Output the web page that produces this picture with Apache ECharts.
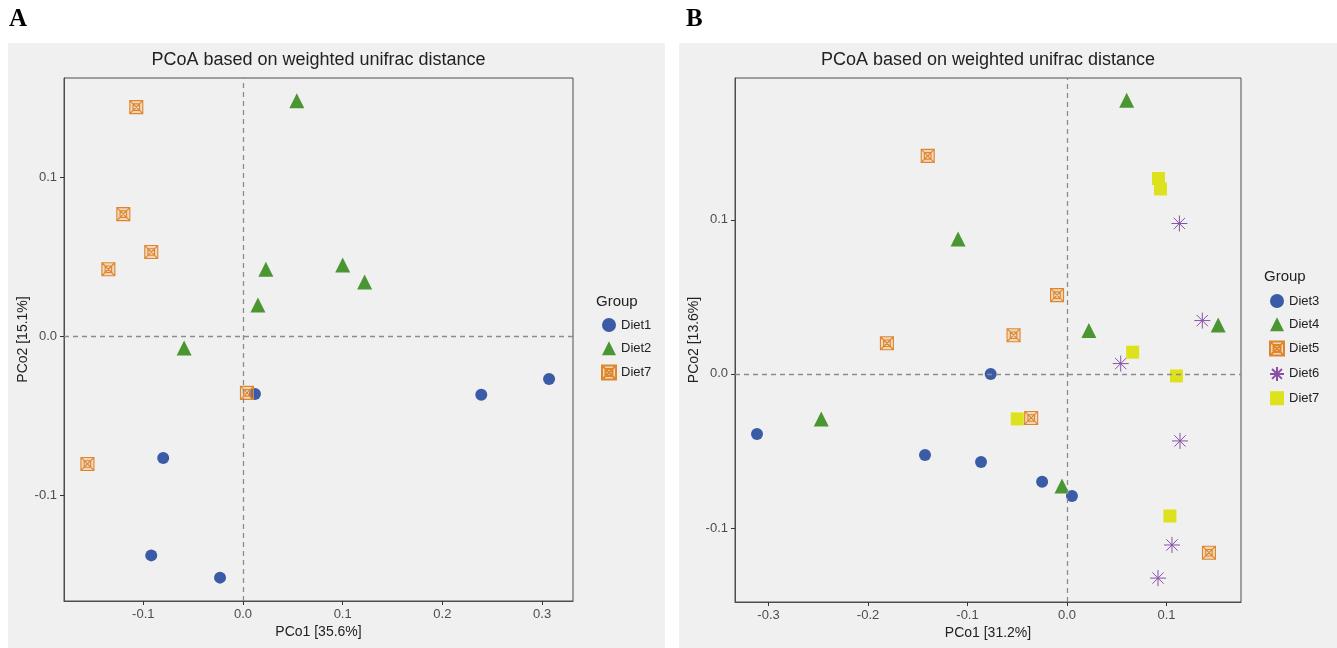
<!DOCTYPE html>
<html>
<head>
<meta charset="utf-8">
<title>PCoA weighted unifrac</title>
<script src="https://cdn.jsdelivr.net/npm/echarts@6/dist/echarts.min.js"></script>
<style>
  html, body { margin: 0; padding: 0; background: #fff; }
  #panelA, #panelB { position: absolute; top: 0; height: 648px; }
  #panelA { left: 0; width: 669px; }
  #panelB { left: 669px; width: 668px; }
</style>
</head>
<body>
<div id="panelA"></div>
<div id="panelB"></div>
<script>
// ---- panel A data: [PCo1, PCo2]
const diet1A = [[0.012, -0.0365], [-0.080, -0.0767], [-0.092, -0.138], [-0.023, -0.152], [0.239, -0.037], [0.307, -0.027]];
const diet2A = [[0.054, 0.148], [0.023, 0.042], [0.015, 0.0195], [0.100, 0.0447], [0.122, 0.034], [-0.059, -0.0075]];
const diet7A = [[-0.107, 0.144], [-0.120, 0.0767], [-0.092, 0.0528], [-0.135, 0.042], [0.004, -0.0358], [-0.156, -0.0805]];

// ---- panel B data
const diet3B = [[-0.0767, 0.0], [-0.3116, -0.039], [-0.1427, -0.0526], [-0.0864, -0.0571], [-0.025, -0.070], [0.005, -0.0792]];
const diet4B = [[0.060, 0.1775], [-0.1095, 0.0875], [0.152, 0.0318], [0.022, 0.0281], [-0.247, -0.0292], [-0.005, -0.0727]];
const diet5B = [[-0.140, 0.1415], [-0.010, 0.0511], [-0.0537, 0.0251], [-0.181, 0.0199], [-0.036, -0.0286], [0.1427, -0.116]];
const diet6B = [[0.113, 0.0976], [0.136, 0.0346], [0.054, 0.0067], [0.1136, -0.0435], [0.1055, -0.111], [0.0915, -0.1325]];
const diet7B = [[0.092, 0.1268], [0.094, 0.120], [0.066, 0.0141], [0.110, -0.0013], [-0.050, -0.0292], [0.1035, -0.0922]];

// ---- tick labels
const xTicksA = [-0.1, 0, 0.1, 0.2, 0.3];
const yTicksA = [-0.1, 0, 0.1];
const xTicksB = [-0.3, -0.2, -0.1, 0, 0.1];
const yTicksB = [-0.1, 0, 0.1];

const TITLE = "PCoA based on weighted unifrac distance";
const FONT = '"Liberation Sans", Arial, sans-serif';

const SYM = {
  circle: { symbol: "circle", symbolSize: 12, itemStyle: { color: "#3a5ba6", opacity: 1 } },
  triangle: { symbol: "triangle", symbolSize: 15, itemStyle: { color: "#4a9632", opacity: 1 } },
  boxX: {
    symbol: "path://M0,0H12V12H0Z M3,3H9V9H3Z M0,0L12,12 M12,0L0,12",
    symbolSize: 13,
    itemStyle: { color: "rgba(236,160,90,0.3)", borderColor: "#e0862a", borderWidth: 1.1, opacity: 1 }
  },
  star: {
    symbol: "path://M6,0V12 M0,6H12 M1.76,1.76L10.24,10.24 M10.24,1.76L1.76,10.24",
    symbolSize: 16,
    itemStyle: { color: "#8a50a8", borderColor: "#8a50a8", borderWidth: 1, opacity: 1 }
  },
  square: { symbol: "rect", symbolSize: 13, itemStyle: { color: "#dde21c", opacity: 1 } }
};

function makeSeries(name, data, sym) {
  return Object.assign({ type: "scatter", name, data, z: 3 }, sym);
}

function tickAxis(ticks, extra) {
  return Object.assign({
    type: "value",
    splitLine: { show: false },
    axisLine: { show: true, onZero: false, lineStyle: { color: "#4d4d4d", width: 1 } },
    axisTick: { show: true, length: 4, customValues: ticks, lineStyle: { color: "#333" } },
    axisLabel: {
      customValues: ticks,
      formatter: (v) => Number(v).toFixed(1),
      color: "#4d4d4d",
      fontSize: 13,
      fontFamily: FONT,
      margin: 7
    },
    nameLocation: "middle",
    nameMoveOverlap: false,
    nameTextStyle: { color: "#222", fontSize: 14, fontFamily: FONT }
  }, extra);
}

function renderPanel(el, cfg) {
  const chart = echarts.init(el, null, { renderer: "canvas" });
  const series = cfg.groups.map((g) => makeSeries(g.name, g.data, g.sym));
  // zero reference lines
  series[0].markLine = {
    silent: true,
    symbol: "none",
    label: { show: false },
    lineStyle: { color: "#8c8c8c", type: [5, 4], width: 1.3 },
    data: [{ xAxis: 0 }, { yAxis: 0 }]
  };

  chart.setOption({
    animation: false,
    backgroundColor: "#fff",
    graphic: [
      {
        type: "rect", silent: true, z: -10,
        shape: cfg.panel,
        style: { fill: "#f0f0f0" }
      },
      {
        type: "text", silent: true,
        style: { text: cfg.letter, x: cfg.letterX, y: 7, font: 'bold 25px "Liberation Serif", serif', fill: "#000", verticalAlign: "top" }
      },
      {
        type: "text", silent: true,
        style: { text: TITLE, x: cfg.grid.left + cfg.grid.width / 2, y: 60, font: "18px " + FONT, fill: "#222", align: "center", verticalAlign: "middle" }
      },
      {
        type: "text", silent: true,
        style: { text: "Group", x: cfg.groupX, y: cfg.groupY, font: "15px " + FONT, fill: "#222", verticalAlign: "middle" }
      }
    ],
    grid: Object.assign({ show: true, borderColor: "#4d4d4d", borderWidth: 1, backgroundColor: "transparent" }, cfg.grid),
    xAxis: tickAxis(cfg.xTicks, { min: cfg.xRange[0], max: cfg.xRange[1], name: cfg.xName, nameGap: 24 }),
    yAxis: tickAxis(cfg.yTicks, { min: cfg.yRange[0], max: cfg.yRange[1], name: cfg.yName, nameGap: 34 }),
    legend: {
      orient: "vertical",
      left: cfg.legendLeft,
      top: cfg.legendTop,
      padding: 0,
      itemWidth: 14,
      itemHeight: 14,
      itemGap: 9.3,
      textStyle: { color: "#222", fontSize: 13, fontFamily: FONT },
      data: cfg.groups.map((g) => g.name)
    },
    series
  });
  return chart;
}

renderPanel(document.getElementById("panelA"), {
  letter: "A", letterX: 9,
  panel: { x: 8, y: 43, width: 657, height: 605 },
  grid: { left: 64, top: 78, width: 509, height: 523 },
  xRange: [-0.1795, 0.331], yRange: [-0.1667, 0.1623],
  xTicks: xTicksA, yTicks: yTicksA,
  xName: "PCo1 [35.6%]", yName: "PCo2 [15.1%]",
  groupX: 596, groupY: 302,
  legendLeft: 601, legendTop: 318,
  groups: [
    { name: "Diet1", data: diet1A, sym: SYM.circle },
    { name: "Diet2", data: diet2A, sym: SYM.triangle },
    { name: "Diet7", data: diet7A, sym: SYM.boxX }
  ]
});

renderPanel(document.getElementById("panelB"), {
  letter: "B", letterX: 17,
  panel: { x: 10, y: 43, width: 658, height: 605 },
  grid: { left: 66, top: 78, width: 506, height: 524 },
  xRange: [-0.3337, 0.1749], yRange: [-0.148, 0.192],
  xTicks: xTicksB, yTicks: yTicksB,
  xName: "PCo1 [31.2%]", yName: "PCo2 [13.6%]",
  groupX: 595, groupY: 277,
  legendLeft: 600, legendTop: 294,
  groups: [
    { name: "Diet3", data: diet3B, sym: SYM.circle },
    { name: "Diet4", data: diet4B, sym: SYM.triangle },
    { name: "Diet5", data: diet5B, sym: SYM.boxX },
    { name: "Diet6", data: diet6B, sym: SYM.star },
    { name: "Diet7", data: diet7B, sym: SYM.square }
  ]
});
</script>
</body>
</html>
